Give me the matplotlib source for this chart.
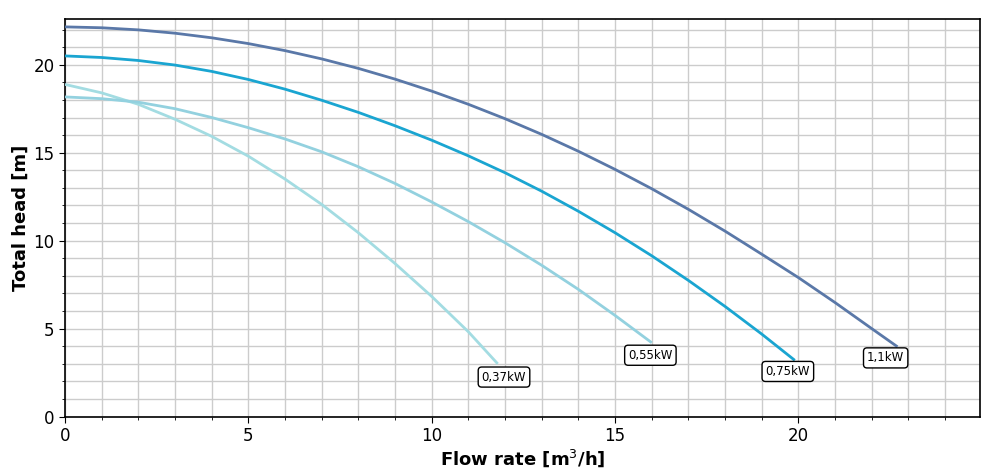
import matplotlib.pyplot as plt
from matplotlib.ticker import MultipleLocator

# pump curves (flow m3/h, head m)
q_110 = [0, 1, 2, 3, 4, 5, 6, 7, 8, 9, 10, 11, 12, 13, 14, 15, 16, 17, 18,
         19, 20, 21, 22, 22.7]
h_110 = [22.15, 22.1, 21.98, 21.79, 21.53, 21.2, 20.8, 20.33, 19.79, 19.18,
         18.5, 17.75, 16.93, 16.04, 15.08, 14.05, 12.95, 11.78, 10.54, 9.23,
         7.9, 6.48, 5.0, 3.97]

q_075 = [0, 1, 2, 3, 4, 5, 6, 7, 8, 9, 10, 11, 12, 13, 14, 15, 16, 17, 18,
         19, 19.9]
h_075 = [20.5, 20.41, 20.24, 19.98, 19.62, 19.16, 18.61, 17.98, 17.29, 16.53,
         15.71, 14.82, 13.86, 12.81, 11.67, 10.45, 9.14, 7.74, 6.26, 4.69, 3.2]

q_055 = [0, 1, 2, 3, 4, 5, 6, 7, 8, 9, 10, 11, 12, 13, 14, 15, 16]
h_055 = [18.17, 18.07, 17.87, 17.5, 17.0, 16.42, 15.78, 15.05, 14.2, 13.25,
         12.2, 11.08, 9.88, 8.6, 7.23, 5.75, 4.2]

q_037 = [0, 1, 2, 3, 4, 5, 6, 7, 8, 9, 10, 11, 11.8]
h_037 = [18.88, 18.4, 17.75, 16.9, 15.93, 14.8, 13.5, 12.06, 10.45, 8.7,
         6.83, 4.82, 3.0]

labels = ["0,37kW", "0,55kW", "0,75kW", "1,1kW"]


def main():
    fig = plt.figure(figsize=(10, 4.74), dpi=100)
    ax = fig.add_axes([0.065, 0.121, 0.915, 0.839])

    series = [
        (q_037, h_037, "#a3dce2", (4.5, -9.5)),
        (q_055, h_055, "#93d1df", (-1, -9)),
        (q_075, h_075, "#1aa5d1", (-5, -8)),
        (q_110, h_110, "#5a78a8", (-8.5, -8)),
    ]
    for (q, h, col, off), lab in zip(series, labels):
        ax.plot(q, h, color=col, lw=2, solid_capstyle="butt",
                solid_joinstyle="round", zorder=3)
        ax.annotate(lab, (q[-1], h[-1]), xytext=off,
                    textcoords="offset points", ha="center", va="center",
                    fontsize=8.5, zorder=4,
                    bbox=dict(boxstyle="round,pad=0.3", fc="white",
                              ec="black", lw=1))

    ax.set_xlim(0, 24.95)
    ax.set_ylim(0, 22.6)
    ax.xaxis.set_major_locator(MultipleLocator(5))
    ax.xaxis.set_minor_locator(MultipleLocator(1))
    ax.yaxis.set_major_locator(MultipleLocator(5))
    ax.yaxis.set_minor_locator(MultipleLocator(1))
    ax.grid(which="both", color="#cccccc", lw=1, zorder=0)
    ax.set_axisbelow(True)
    ax.tick_params(which="major", labelsize=12, length=4)
    ax.tick_params(which="minor", length=2)
    for sp in ax.spines.values():
        sp.set_linewidth(1.2)

    ax.set_xlabel("Flow rate [m$^3$/h]", fontsize=13, fontweight="bold",
                  labelpad=2)
    ax.set_ylabel("Total head [m]", fontsize=13, fontweight="bold",
                  labelpad=3)
    fig.savefig("out.png", dpi=100)


if __name__ == "__main__":
    main()
